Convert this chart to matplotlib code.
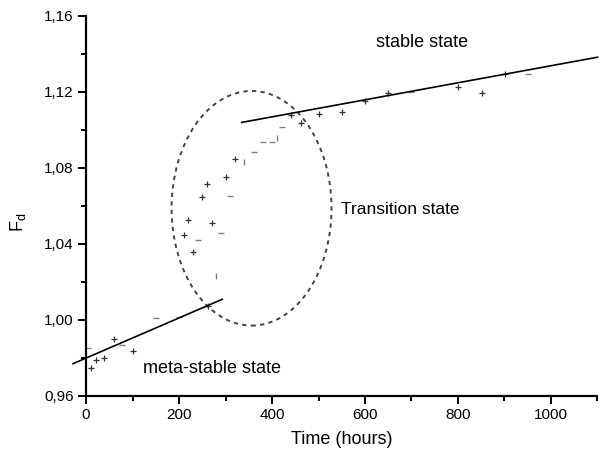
import matplotlib
matplotlib.use("Agg")
import matplotlib.pyplot as plt
from matplotlib.patches import Ellipse
from matplotlib.ticker import MultipleLocator, FuncFormatter

plt.rcParams['font.family'] = ['Liberation Sans', 'DejaVu Sans']
plt.rcParams['mathtext.fontset'] = 'custom'
plt.rcParams['mathtext.rm'] = 'Liberation Sans'
plt.rcParams['mathtext.it'] = 'Liberation Sans'

# data: "+" markers
plus_t = [10, 21, 39, 60, 100, 263, 210, 220, 230, 250, 261, 270, 300, 320,
          440, 462, 501, 551, 601, 650, 801, 851, 901]
plus_f = [0.9749, 0.979, 0.9798, 0.9898, 0.9838, 1.0075, 1.0447, 1.0528, 1.0356,
          1.0646, 1.0716, 1.0511, 1.0754, 1.0846,
          1.1079, 1.1035, 1.1083, 1.1096, 1.1153, 1.1193, 1.1228, 1.1196, 1.1295]
# "-" markers
minus_t = [5, 78, 150, 200, 240, 291, 310, 361, 381, 400, 421, 700, 951]
minus_f = [0.985, 0.987, 1.0012, 1.0017, 1.0421, 1.0456, 1.0654, 1.0886,
           1.0935, 1.0935, 1.1014, 1.1198, 1.1295]
# "|" markers
bar_t = [280, 340, 410]
bar_f = [1.0232, 1.0833, 1.096]

# fitted lines
fit1_t = [-28, 293]
fit1_f = [0.977, 1.0109]
fit2_t = [335, 1100]
fit2_f = [1.104, 1.1383]

fig = plt.figure(figsize=(6.02, 4.57), dpi=100)
ax = fig.add_axes([0.1429, 0.1335, 0.8496, 0.8315])

ax.plot(plus_t, plus_f, linestyle='none', marker='+', color='#333333',
        markersize=5, markeredgewidth=0.9)
ax.plot(minus_t, minus_f, linestyle='none', marker='_', color='#808080',
        markersize=5, markeredgewidth=1.0)
ax.plot(bar_t, bar_f, linestyle='none', marker='|', color='#808080',
        markersize=5, markeredgewidth=1.0)

ax.plot(fit1_t, fit1_f, color='black', linewidth=1.2, clip_on=False)
ax.plot(fit2_t, fit2_f, color='black', linewidth=1.2, clip_on=False)

ell = Ellipse((356, 1.0588), width=344, height=0.1235, fill=False,
              edgecolor='#444444', linewidth=1.4, linestyle=(0, (2.2, 2.2)))
ax.add_patch(ell)

ax.text(723, 1.1458, 'stable state', fontsize=13, ha='center', va='center')
ax.text(675, 1.0584, 'Transition state', fontsize=12.5, ha='center', va='center')
ax.text(271, 0.9747, 'meta-stable state', fontsize=13, ha='center', va='center')

ax.set_xlim(0, 1100)
ax.set_ylim(0.96, 1.16)
ax.xaxis.set_major_locator(MultipleLocator(200))
ax.xaxis.set_minor_locator(MultipleLocator(100))
ax.yaxis.set_major_locator(MultipleLocator(0.04))
ax.yaxis.set_minor_locator(MultipleLocator(0.02))
ax.yaxis.set_major_formatter(FuncFormatter(lambda v, p: f"{v:.2f}".replace('.', ',')))

for s in ['top', 'right']:
    ax.spines[s].set_visible(False)
for s in ['left', 'bottom']:
    ax.spines[s].set_linewidth(1.6)
ax.tick_params(which='major', direction='out', length=6, width=1.4, labelsize=11, pad=3)
ax.tick_params(which='minor', direction='out', length=3.5, width=1.4)

ax.set_xlabel('Time (hours)', fontsize=13, labelpad=6)
ax.set_ylabel('F$_\\mathrm{d}$', fontsize=13)
ax.yaxis.set_label_coords(-0.113, 0.458)

fig.savefig('out.png', dpi=100)
